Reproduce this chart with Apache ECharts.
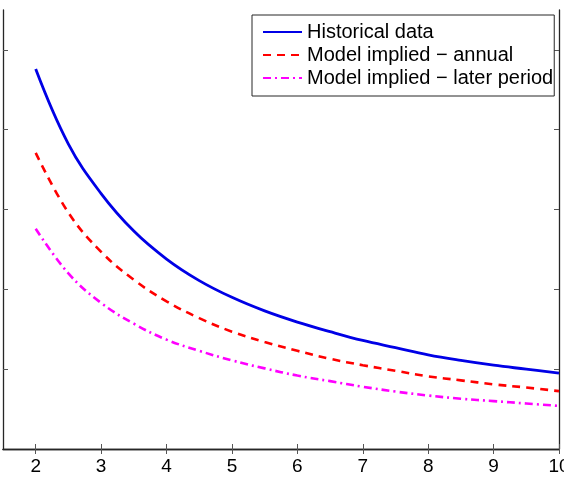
<!DOCTYPE html>
<html>
<head>
<meta charset="utf-8">
<script src="https://cdn.jsdelivr.net/npm/echarts@6/dist/echarts.min.js"></script>
<style>
  html, body { margin: 0; padding: 0; background: #fff; }
  #chart { width: 564px; height: 477px; }
</style>
</head>
<body>
<div id="chart"></div>
<script>
// x positions (horizon) and values
const horizon = [2, 2.5, 3, 3.5, 4, 4.5, 5, 5.5, 6, 6.5, 7, 7.5, 8, 8.5, 9, 9.5, 10];
const historical = [4.76, 3.82, 3.2, 2.73, 2.38, 2.11, 1.9, 1.73, 1.59, 1.47, 1.36, 1.27, 1.18, 1.11, 1.05, 1.0, 0.95];
const annual = [3.71, 2.96, 2.47, 2.12, 1.85, 1.64, 1.47, 1.34, 1.23, 1.13, 1.05, 0.98, 0.91, 0.86, 0.81, 0.77, 0.725];
const laterPeriod = [2.76, 2.2, 1.83, 1.57, 1.37, 1.23, 1.11, 1.01, 0.92, 0.85, 0.78, 0.72, 0.67, 0.63, 0.6, 0.57, 0.54];
const xTicks = [2, 3, 4, 5, 6, 7, 8, 9, 10];
const yTicks = [1, 2, 3, 4, 5];

const pairs = (xs, ys) => xs.map((x, i) => [x, ys[i]]);

const axisLine = { show: true, lineStyle: { color: '#262626', width: 1.3 } };
const tickStyle = { color: '#555', width: 1 };

const myChart = echarts.init(document.getElementById('chart'));

const option = {
  animation: false,
  textStyle: { fontFamily: 'Liberation Sans, Arial, sans-serif' },
  grid: { left: 3, right: 5, top: 10, bottom: 28, containLabel: false, outerBoundsMode: 'none' },
  legend: {
    orient: 'vertical',
    left: 252,
    top: 15,
    padding: [7, 1, 8, 10],
    itemGap: 3,
    itemWidth: 39,
    itemHeight: 14,
    itemStyle: { opacity: 0 },
    backgroundColor: '#fff',
    borderColor: '#262626',
    borderWidth: 1,
    borderRadius: 0,
    textStyle: { color: '#000', fontSize: 20, lineHeight: 20, padding: [0, 0, 0, 0] },
    data: ['Historical data', 'Model implied \u2212 annual', 'Model implied \u2212 later period']
  },
  xAxis: [
    {
      type: 'value',
      min: 1.5,
      max: 10,
      position: 'bottom',
      axisLine: axisLine,
      splitLine: { show: false },
      axisTick: { show: true, inside: true, length: 5, lineStyle: tickStyle, customValues: xTicks },
      axisLabel: { show: true, customValues: xTicks, color: '#000', fontSize: 19, margin: 8 }
    },
    {
      type: 'value',
      min: 1.5,
      max: 10,
      position: 'top',
      axisLine: axisLine,
      splitLine: { show: false },
      axisTick: { show: true, inside: true, length: 5, lineStyle: tickStyle, customValues: xTicks },
      axisLabel: { show: false }
    }
  ],
  yAxis: [
    {
      type: 'value',
      min: 0,
      max: 5.5,
      position: 'left',
      axisLine: axisLine,
      splitLine: { show: false },
      axisTick: { show: true, inside: true, length: 5, lineStyle: tickStyle, customValues: yTicks },
      axisLabel: { show: false }
    },
    {
      type: 'value',
      min: 0,
      max: 5.5,
      position: 'right',
      axisLine: axisLine,
      splitLine: { show: false },
      axisTick: { show: true, inside: true, length: 5, lineStyle: tickStyle, customValues: yTicks },
      axisLabel: { show: false }
    }
  ],
  series: [
    {
      name: 'Historical data',
      type: 'line',
      smooth: 0.4,
      symbol: 'none',
      data: pairs(horizon, historical),
      color: '#0000e6',
      lineStyle: { color: '#0000e6', width: 2.8 }
    },
    {
      name: 'Model implied \u2212 annual',
      type: 'line',
      smooth: 0.4,
      symbol: 'none',
      data: pairs(horizon, annual),
      color: '#f00',
      lineStyle: { color: '#f00', width: 2.6, type: [8, 6] }
    },
    {
      name: 'Model implied \u2212 later period',
      type: 'line',
      smooth: 0.4,
      symbol: 'none',
      data: pairs(horizon, laterPeriod),
      color: '#f0f',
      lineStyle: { color: '#f0f', width: 2.6, type: [8, 4, 2, 4] }
    }
  ]
};

myChart.setOption(option);
window.addEventListener('resize', function () {
  myChart.resize();
});
</script>
</body>
</html>
